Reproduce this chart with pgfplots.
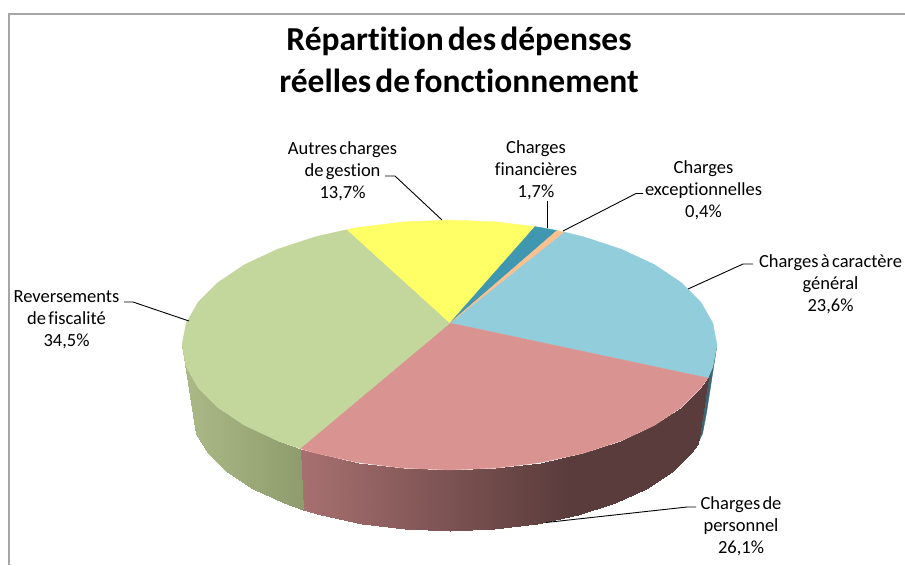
\documentclass[border=0pt]{standalone}
\usepackage{pgfplots}
\pgfplotsset{compat=1.18}
\usepackage{fontspec}
\setmainfont[WordSpace=0.55,Ligatures=NoCommon]{Carlito}
\definecolor{gtop}{RGB}{195,214,155}
\definecolor{rtop}{RGB}{217,148,146}
\definecolor{btop}{RGB}{146,205,220}
\definecolor{ytop}{RGB}{255,255,102}
\definecolor{ttop}{RGB}{63,152,176}
\definecolor{otop}{RGB}{250,192,144}
\definecolor{bside}{RGB}{59,101,112}
\definecolor{frame}{RGB}{166,166,166}
\pgfplotsset{
  colormap={sidegreen}{rgb255(1.82cm)=(172,186,136); rgb255(3.00cm)=(143,157,110); rgb255(7.20cm)=(143,157,110)},
  colormap={sidered}{rgb255(1.82cm)=(168,112,112); rgb255(3.00cm)=(168,112,112); rgb255(4.60cm)=(121,80,80); rgb255(5.70cm)=(90,60,60); rgb255(7.20cm)=(90,60,60)},
  slice/.style={fill=#1,draw=#1,line width=0.3pt},
  leader/.style={black,line width=0.9pt},
}
\tikzset{lab/.style={align=center,anchor=center,font=\fontsize{18.5}{21.8}\selectfont}}
\begin{document}
\begin{tikzpicture}
\begin{axis}[
  width=905pt,height=565pt,scale only axis,
  xmin=0,xmax=905,ymin=0,ymax=565,y dir=reverse,
  axis lines=none,clip=false,
  point meta min=182,point meta max=720,
  every axis plot/.append style={mark=none},
]
% frame
\addplot[frame,line width=1.8pt] coordinates {(9,565)(9,14)(905,14)};
% sides
\addplot[fill=bside,draw=bside,line width=0.3pt] coordinates {(717,345)(712.9,366.7)(708,378)(697.8,443.6)(702.6,433.5)(706.5,413)(717,345)};
\addplot[patch,patch type=rectangle,shader=interp,point meta=x,colormap name=sidered] table[row sep=\\] {
x y\\
708 378\\ 700.9 387.8\\ 691 453.4\\ 697.8 443.6\\
700.9 387.8\\ 681.2 407.5\\ 672.1 472\\ 691 453.4\\
681.2 407.5\\ 654.4 425.4\\ 646.4 488.9\\ 672.1 472\\
654.4 425.4\\ 621.4 440.8\\ 614.7 503.4\\ 646.4 488.9\\
621.4 440.8\\ 583.3 453.3\\ 578 515.2\\ 614.7 503.4\\
583.3 453.3\\ 541 462.5\\ 537.4 523.9\\ 578 515.2\\
541 462.5\\ 495.9 468.1\\ 494.1 529.2\\ 537.4 523.9\\
495.9 468.1\\ 449.5 470\\ 449.5 531\\ 494.1 529.2\\
449.5 470\\ 403.1 468.1\\ 404.9 529.2\\ 449.5 531\\
403.1 468.1\\ 358 462.5\\ 361.6 523.9\\ 404.9 529.2\\
358 462.5\\ 315.7 453.3\\ 321 515.2\\ 361.6 523.9\\
315.7 453.3\\ 300 448.5\\ 303 509.5\\ 321 515.2\\
};
\addplot[patch,patch type=rectangle,shader=interp,point meta=x,colormap name=sidegreen] table[row sep=\\] {
x y\\
300 448.5\\ 277.6 440.8\\ 284.3 503.4\\ 303 509.5\\
277.6 440.8\\ 244.6 425.4\\ 252.6 488.9\\ 284.3 503.4\\
244.6 425.4\\ 217.8 407.5\\ 226.9 472\\ 252.6 488.9\\
217.8 407.5\\ 198.1 387.8\\ 208 453.4\\ 226.9 472\\
198.1 387.8\\ 186.1 366.7\\ 196.4 433.5\\ 208 453.4\\
186.1 366.7\\ 182 345\\ 192.5 413\\ 196.4 433.5\\
};
% top face
\addplot[slice=btop] coordinates {(450,323)(564,232)(583.3,236.7)(621.4,249.2)(654.4,264.6)(681.2,282.5)(700.9,302.2)(712.9,323.3)(717,345)(712.9,366.7)(708,378)(450,323)};
\addplot[slice=rtop] coordinates {(450,323)(708,378)(700.9,387.8)(681.2,407.5)(654.4,425.4)(621.4,440.8)(583.3,453.3)(541,462.5)(495.9,468.1)(449.5,470)(403.1,468.1)(358,462.5)(315.7,453.3)(300,448.5)(450,323)};
\addplot[slice=gtop] coordinates {(450,323)(300,448.5)(277.6,440.8)(244.6,425.4)(217.8,407.5)(198.1,387.8)(186.1,366.7)(182,345)(186.1,323.3)(198.1,302.2)(217.8,282.5)(244.6,264.6)(277.6,249.2)(315.7,236.7)(347,229.6)(450,323)};
\addplot[slice=ytop] coordinates {(450,323)(347,229.6)(358,227.5)(403.1,221.9)(449.5,220)(495.9,221.9)(535,226.6)(450,323)};
\addplot[slice=ttop] coordinates {(450,323)(535,226.6)(541,227.5)(557,230.5)(450,323)};
\addplot[slice=otop] coordinates {(450,323)(557,230.5)(564,232)(450,323)};
% leaders
\addplot[leader] coordinates {(385,176)(395,176)(442,220)};
\addplot[leader] coordinates {(547,201)(547,228)};
\addplot[leader] coordinates {(643,193.5)(636,193.5)(563,231)};
\addplot[leader] coordinates {(753,264)(743,264)(688,289)};
\addplot[leader] coordinates {(124,302)(133,302)(189,321)};
\addplot[leader] coordinates {(696,507)(687,507)(546,522.5)};
% text
\node[align=center,anchor=center,font=\fontsize{33.5}{42}\selectfont\bfseries] at (axis cs:459,59.5) {Répartition des dépenses\\réelles de fonctionnement};
\node[lab] at (axis cs:342.5,171) {Autres charges\\de gestion\\13,7\%};
\node[lab] at (axis cs:536,170) {Charges\\financières\\1,7\%};
\node[lab] at (axis cs:703.5,190) {Charges\\exceptionnelles\\0,4\%};
\node[lab] at (axis cs:830.5,284.5) {Charges à caractère\\général\\23,6\%};
\node[lab] at (axis cs:66.5,320) {Reversements\\de fiscalité\\34,5\%};
\node[lab] at (axis cs:741,526) {Charges de\\personnel\\26,1\%};
\end{axis}
\pgfresetboundingbox
\path (current axis.south west) rectangle (current axis.north east);
\end{tikzpicture}
\end{document}
